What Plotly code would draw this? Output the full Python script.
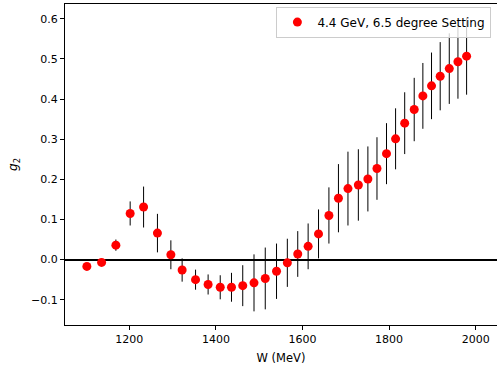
import plotly.graph_objects as go

W = [1102, 1136, 1169, 1202, 1233, 1265, 1296, 1322, 1353, 1382, 1410, 1436,
     1462, 1488, 1514, 1540, 1565, 1589, 1613, 1637, 1661, 1683, 1705, 1729,
     1751, 1772, 1794, 1815, 1836, 1858, 1878, 1898, 1918, 1939, 1959, 1979]
g2 = [-0.017, -0.007, 0.036, 0.115, 0.131, 0.066, 0.012, -0.026, -0.050, -0.062,
      -0.069, -0.069, -0.065, -0.058, -0.047, -0.029, -0.008, 0.014, 0.033, 0.064,
      0.110, 0.153, 0.177, 0.186, 0.201, 0.227, 0.264, 0.301, 0.340, 0.374,
      0.408, 0.433, 0.457, 0.476, 0.493, 0.507]
err = [0.004, 0.004, 0.014, 0.030, 0.051, 0.048, 0.036, 0.029, 0.025, 0.025,
       0.030, 0.036, 0.051, 0.071, 0.077, 0.069, 0.060, 0.057, 0.057, 0.061,
       0.070, 0.085, 0.092, 0.089, 0.081, 0.078, 0.076, 0.076, 0.077, 0.079,
       0.082, 0.083, 0.085, 0.088, 0.092, 0.096]

x_ticks = [1200, 1400, 1600, 1800, 2000]
y_ticks = [-0.1, 0.0, 0.1, 0.2, 0.3, 0.4, 0.5, 0.6]
y_tick_text = ["\u22120.1", "0.0", "0.1", "0.2", "0.3", "0.4", "0.5", "0.6"]

FONT = "DejaVu Sans"

fig = go.Figure()
fig.add_trace(go.Scatter(
    x=W, y=g2, mode="markers",
    name="4.4 GeV, 6.5 degree Setting",
    marker=dict(color="#ff0000", size=9, line=dict(width=0)),
    error_y=dict(type="data", array=err, visible=True, color="#000000",
                 thickness=1, width=0),
))

fig.update_layout(
    width=497, height=368,
    margin=dict(l=65, r=0, t=4, b=43),
    paper_bgcolor="white", plot_bgcolor="white",
    font=dict(family=FONT, size=11, color="#000000"),
    showlegend=True,
    legend=dict(x=0.987, y=0.992, xanchor="right", yanchor="top",
                bgcolor="rgba(255,255,255,0.8)", bordercolor="#cccccc",
                borderwidth=1, font=dict(family=FONT, size=12),
                itemwidth=30),
    xaxis=dict(range=[1051.5, 2049.2], tickvals=x_ticks,
               ticks="outside", ticklen=4, tickwidth=1, tickcolor="#000",
               showline=True, linecolor="#000", linewidth=1, mirror=True,
               showgrid=False, zeroline=False,
               title=dict(text="W (MeV)", standoff=8,
                          font=dict(family=FONT, size=11.5))),
    yaxis=dict(range=[-0.163, 0.637], tickvals=y_ticks, ticktext=y_tick_text,
               ticks="outside", ticklen=4, tickwidth=1, tickcolor="#000",
               showline=True, linecolor="#000", linewidth=1, mirror=False,
               showgrid=False, zeroline=True, zerolinecolor="#000",
               zerolinewidth=2,
               title=dict(text="<i>g</i><sub>2</sub>", standoff=10,
                          font=dict(family=FONT, size=12))),
)

fig.write_html("out.html")
